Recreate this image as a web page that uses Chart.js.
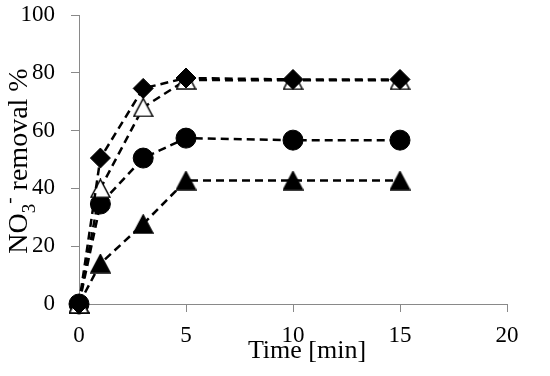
<!DOCTYPE html>
<html>
<head>
<meta charset="utf-8">
<script src="https://cdn.jsdelivr.net/npm/chart.js@4.4.0/dist/chart.umd.js"></script>
<style>
  html, body { margin: 0; padding: 0; background: #fff; }
  #wrap { width: 550px; height: 376px; position: relative; }
</style>
</head>
<body>
<div id="wrap"><canvas id="c"></canvas></div>
<script>
// time points [min]
const times = [0, 1, 3, 5, 10, 15];
// NO3- removal % for each series
const diamondVals = [0, 50.5, 74.6, 78.2, 77.7, 77.7];
const openTriVals = [0, 40, 68, 77.5, 77.4, 77.4];
const circleVals = [0, 34.6, 50.5, 57.4, 56.7, 56.7];
const filledTriVals = [0, 14, 27.7, 42.7, 42.7, 42.7];

const xTicks = [0, 5, 10, 15, 20];
const yTicks = [0, 20, 40, 60, 80, 100];

const serif = '"Liberation Serif", "Times New Roman", Times, serif';
const axisGray = '#898989';

// excel-like triangle marker: box centred on the point
function triMarker(fill) {
    const w = 21, h = 20;
    const cv = document.createElement('canvas');
    cv.width = w; cv.height = h;
    const g = cv.getContext('2d');
    g.beginPath();
    g.moveTo(w / 2, 1);
    g.lineTo(w - 1, h - 1);
    g.lineTo(1, h - 1);
    g.closePath();
    g.fillStyle = fill;
    g.fill();
    g.lineWidth = 1.5;
    g.strokeStyle = '#000';
    g.stroke();
    return cv;
}

function pts(vals) {
    return times.map((t, i) => ({ x: t, y: vals[i] }));
}

function series(vals, style, radius, fill) {
    return {
        data: pts(vals),
        borderColor: '#000',
        borderWidth: 2.5,
        borderDash: [8, 5],
        tension: 0,
        clip: false,
        pointStyle: style,
        pointRadius: radius,
        pointHoverRadius: radius,
        pointBackgroundColor: fill,
        pointBorderColor: '#000',
        pointBorderWidth: 1,
        fill: false,
    };
}

// axis titles (y one needs sub/superscript)
const axisTitles = {
    id: 'axisTitles',
    afterDraw(chart) {
        const ctx = chart.ctx;
        const big = 28, small = 19;
        const parts = [
            ['NO', big, 0],
            ['3', small, 8],
            ['-', small, -12],
            [' removal %', big, 0],
        ];
        ctx.save();
        ctx.fillStyle = '#000';
        ctx.textBaseline = 'alphabetic';
        let w = 0;
        parts.forEach(([t, s]) => { ctx.font = `${s}px ${serif}`; w += ctx.measureText(t).width; });
        ctx.translate(27, 161);
        ctx.rotate(-Math.PI / 2);
        let x = -w / 2;
        parts.forEach(([t, s, dy]) => {
            ctx.font = `${s}px ${serif}`;
            ctx.fillText(t, x, dy);
            x += ctx.measureText(t).width;
        });
        ctx.restore();

        ctx.save();
        ctx.fillStyle = '#000';
        ctx.font = `26px ${serif}`;
        ctx.textAlign = 'center';
        ctx.textBaseline = 'alphabetic';
        ctx.fillText('Time [min]', 307, 358);
        ctx.restore();
    }
};

function draw() {
    new Chart(document.getElementById('c'), {
        type: 'line',
        data: {
            datasets: [
                series(diamondVals, 'rectRot', 10, '#000'),
                series(openTriVals, triMarker('#fff'), 10, '#fff'),
                series(circleVals, 'circle', 10, '#000'),
                series(filledTriVals, triMarker('#000'), 10, '#000'),
            ]
        },
        options: {
            responsive: true,
            maintainAspectRatio: false,
            animation: false,
            layout: { padding: { top: 15, right: 43, left: 0, bottom: 0 } },
            plugins: { legend: { display: false }, tooltip: { enabled: false } },
            scales: {
                x: {
                    type: 'linear',
                    min: 0, max: 20,
                    afterBuildTicks: (s) => { s.ticks = xTicks.map((v) => ({ value: v })); },
                    afterFit: (s) => { s.height = 72; s.paddingLeft = 0; s.paddingRight = 0; },
                    grid: { display: true, drawOnChartArea: false, drawTicks: true, tickLength: 8, color: axisGray },
                    border: { color: axisGray, width: 1 },
                    ticks: { color: '#000', font: { family: serif, size: 23 }, padding: 10, maxRotation: 0 },
                },
                y: {
                    min: 0, max: 100,
                    afterBuildTicks: (s) => { s.ticks = yTicks.map((v) => ({ value: v })); },
                    afterFit: (s) => { s.width = 79; s.paddingTop = 0; s.paddingBottom = 0; },
                    grid: { display: true, drawOnChartArea: false, drawTicks: true, tickLength: 8, color: axisGray },
                    border: { color: axisGray, width: 1 },
                    ticks: { color: '#000', font: { family: serif, size: 23 }, padding: 16 },
                },
            },
        },
        plugins: [axisTitles],
    });
}

Promise.all([
    document.fonts.load('23px "Liberation Serif"'),
    document.fonts.load('19px "Liberation Serif"'),
]).catch(() => {}).then(draw);
</script>
</body>
</html>
